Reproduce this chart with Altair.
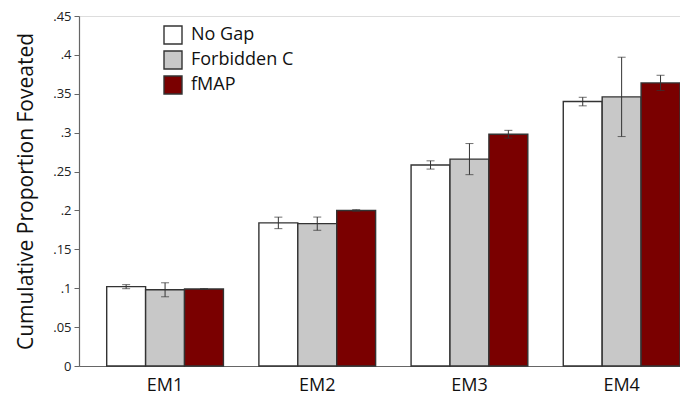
import altair as alt
import pandas as pd

categories = ["EM1", "EM2", "EM3", "EM4"]
series = ["No Gap", "Forbidden C", "fMAP"]
no_gap = [0.102, 0.184, 0.2585, 0.340]
no_gap_err = [0.0026, 0.0074, 0.0053, 0.0055]
forbidden = [0.098, 0.183, 0.266, 0.346]
forbidden_err = [0.009, 0.0085, 0.020, 0.051]
fmap = [0.099, 0.200, 0.298, 0.364]
fmap_err = [0.0006, 0.001, 0.005, 0.0098]
colors = ["#ffffff", "#c8c8c8", "#7a0000"]
y_ticks = [0, 0.05, 0.1, 0.15, 0.2, 0.25, 0.3, 0.35, 0.4, 0.45]

rows = []
for s, vals, errs in [("No Gap", no_gap, no_gap_err),
                      ("Forbidden C", forbidden, forbidden_err),
                      ("fMAP", fmap, fmap_err)]:
    for c, v, e in zip(categories, vals, errs):
        rows.append({"cat": c, "series": s, "value": v, "lo": v - e, "hi": v + e})
df = pd.DataFrame(rows)

FONT = "Open Sans"
TITLE = "Cumulative Proportion Foveated"

x = alt.X("cat:N", sort=categories, title=None,
          scale=alt.Scale(paddingInner=0.233, paddingOuter=0.091, align=1),
          axis=alt.Axis(labelAngle=0, ticks=False, labelFontSize=18, labelFont=FONT,
                        labelColor="#111", labelPadding=10, domainColor="#666",
                        domainWidth=1.2))
xo = alt.XOffset("series:N", sort=series,
                 scale=alt.Scale(paddingInner=0, paddingOuter=0))

yscale = alt.Scale(domain=[0, 0.45], nice=False)
yaxis = alt.Axis(values=y_ticks,
                 labelExpr="datum.value == 0 ? '0' : replace(format(datum.value, '.2~f'), /^0/, '')",
                 labelOverlap=False, labelFlush=False,
                 labelFontSize=13, labelFont=FONT, labelColor="#222",
                 tickSize=5, tickColor="#666", domainColor="#666", domainWidth=1.2,
                 grid=False, titleFont=FONT, titleFontSize=21,
                 titleFontWeight="normal", titleColor="#111", titlePadding=16,
                 labelPadding=3)

def yenc(field):
    return alt.Y(field, title=TITLE, scale=yscale, axis=yaxis)

base = alt.Chart(df)

bars = base.mark_bar(stroke="#333", strokeWidth=1.4).encode(
    x=x,
    xOffset=xo,
    y=yenc("value:Q"),
    color=alt.Color("series:N", sort=series,
                    scale=alt.Scale(domain=series, range=colors),
                    legend=alt.Legend(title=None, orient="none", legendX=84, legendY=9,
                                      symbolType="square", symbolSize=324,
                                      symbolStrokeColor="#333", symbolStrokeWidth=1.4,
                                      labelFontSize=18, labelFont=FONT, labelColor="#111",
                                      rowPadding=1, labelOffset=8)),
)

rules = base.mark_rule(color="#333", strokeWidth=1).encode(
    x=x, xOffset=xo, y=yenc("lo:Q"), y2="hi:Q")
caps_lo = base.mark_tick(color="#333", size=8, thickness=1, orient="horizontal").encode(
    x=x, xOffset=xo, y=yenc("lo:Q"))
caps_hi = base.mark_tick(color="#333", size=8, thickness=1, orient="horizontal").encode(
    x=x, xOffset=xo, y=yenc("hi:Q"))

chart = alt.layer(bars, rules, caps_lo, caps_hi).properties(
    width=601, height=350,
    autosize=alt.AutoSizeParams(type="none"),
    padding={"left": 71, "top": 8, "right": 0, "bottom": 34},
).configure_view(stroke=None).configure(background="white")

chart.save("out.html", embed_options={"renderer": "svg", "actions": False})
